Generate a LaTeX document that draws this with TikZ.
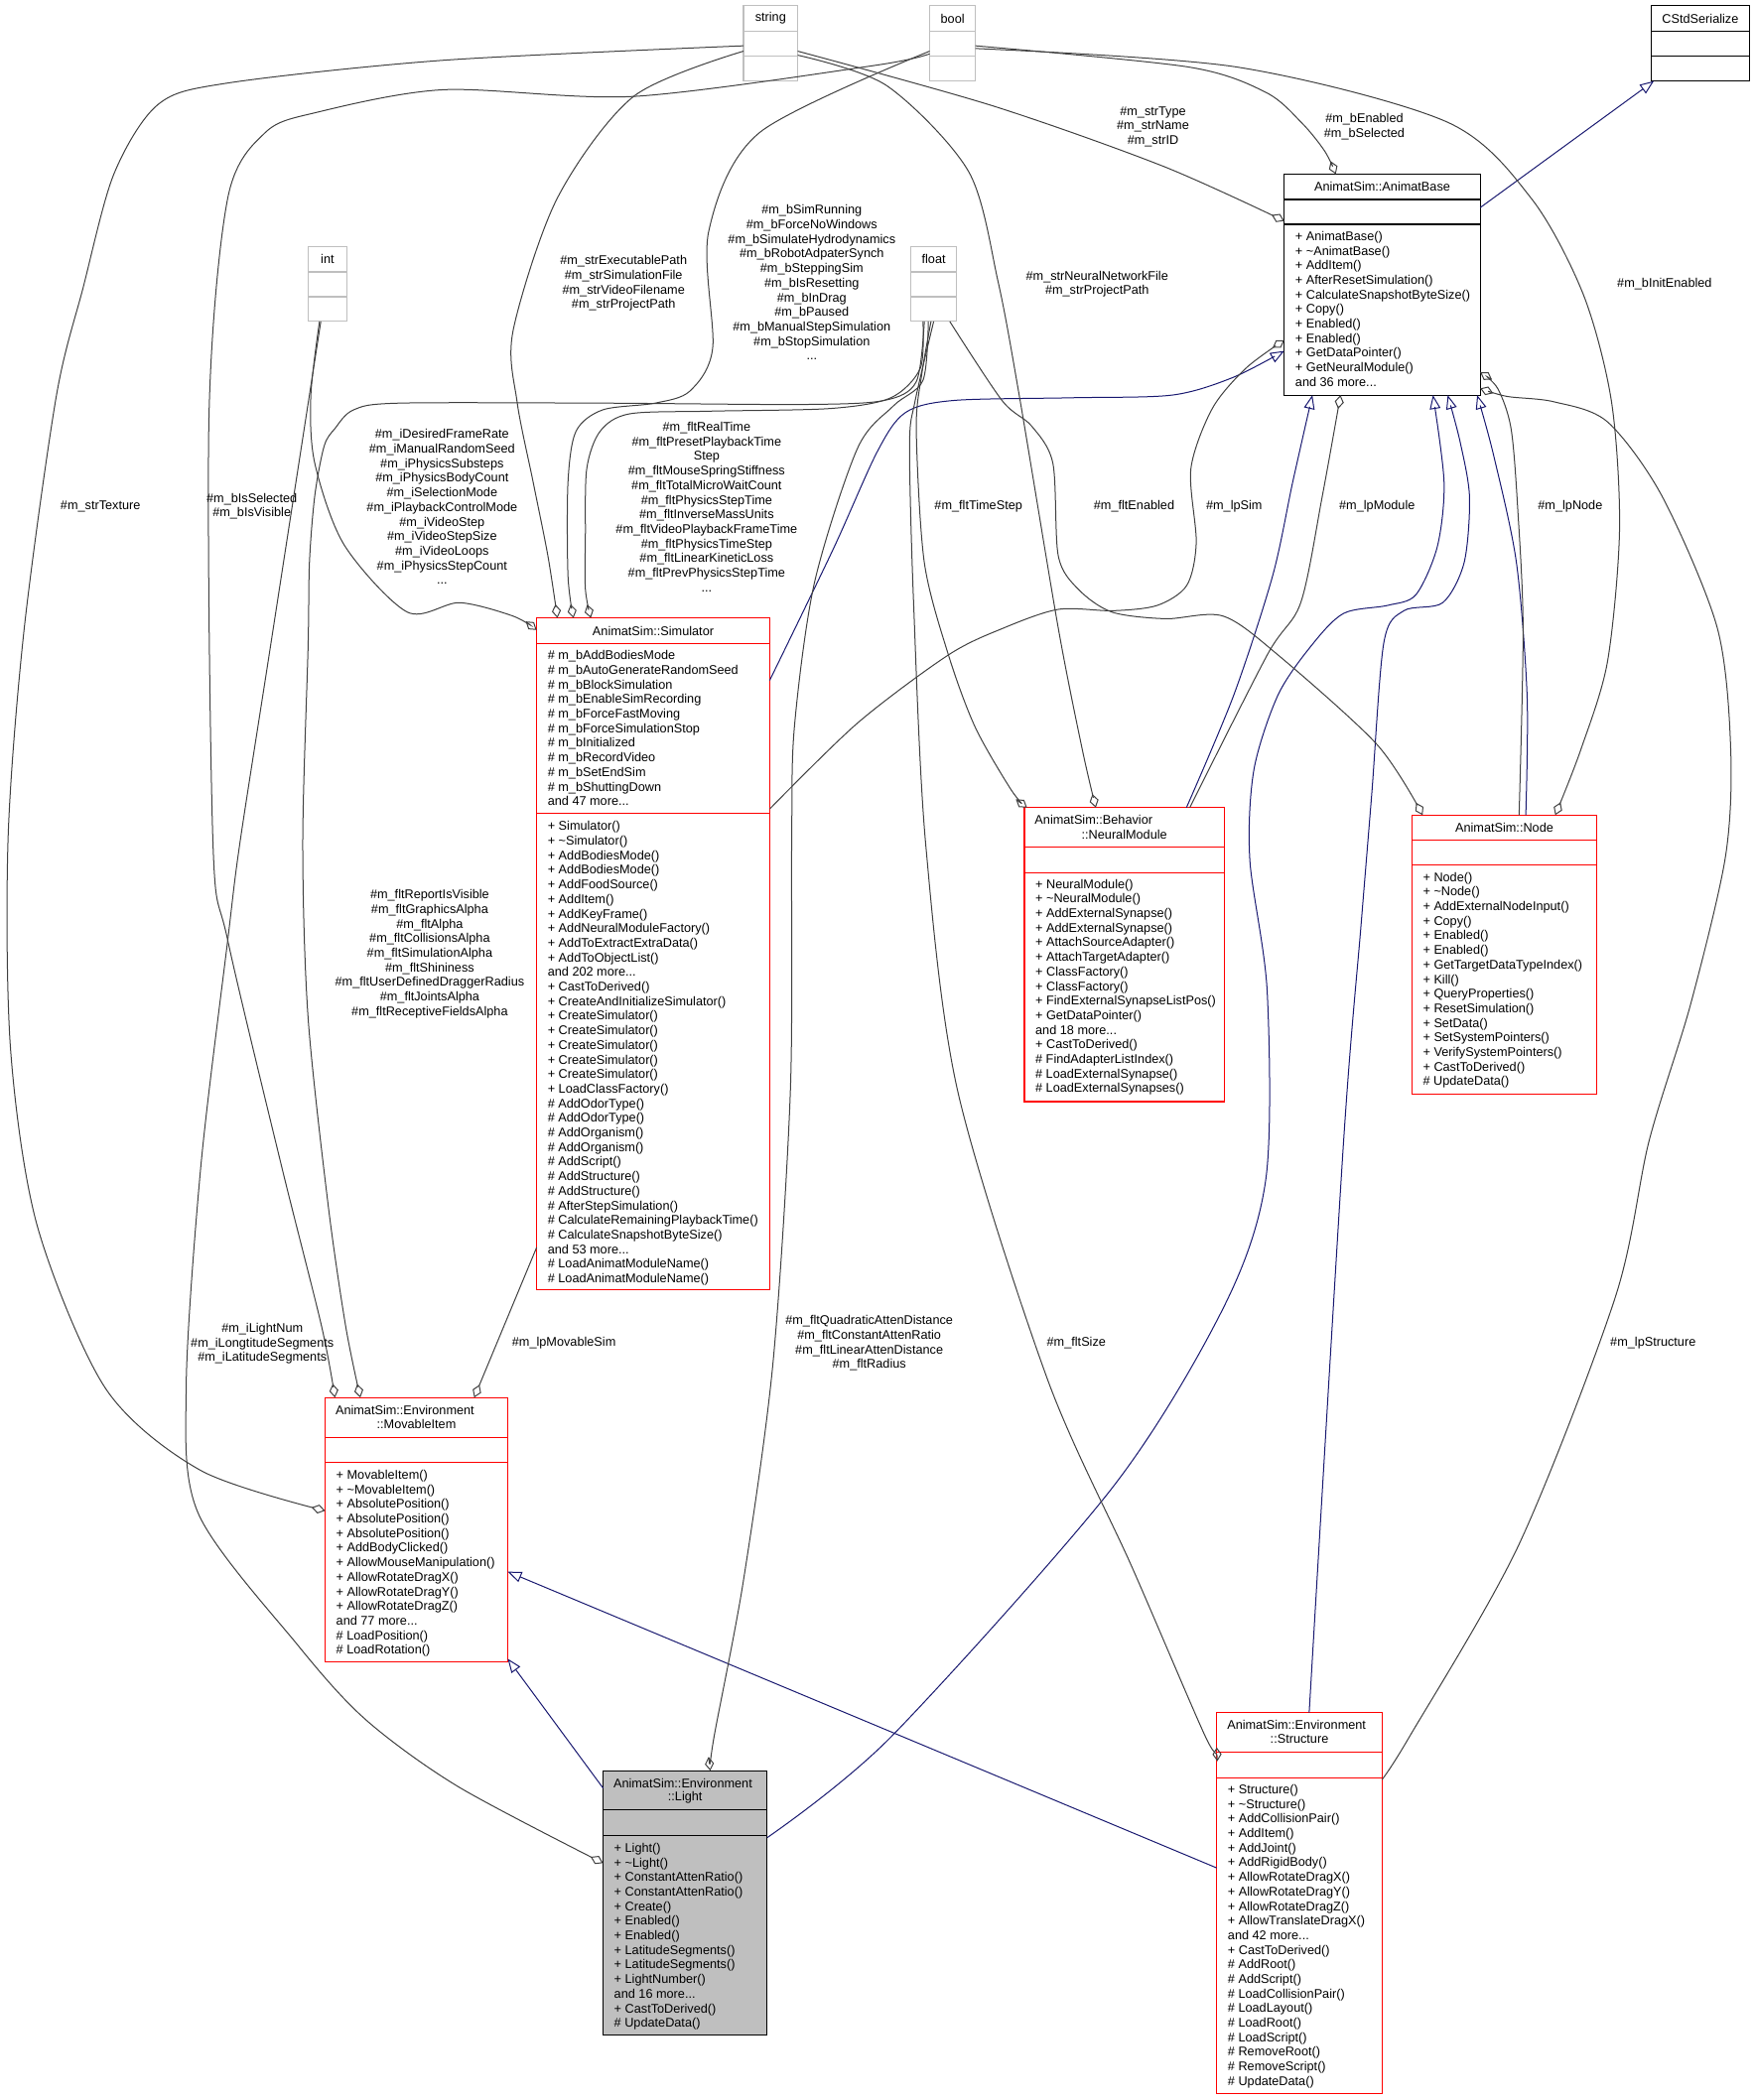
\documentclass[tikz,border=0pt]{standalone}
\usepackage{fontspec}
\setmainfont{Liberation Sans}
\usetikzlibrary{calc,arrows.meta}

\definecolor{dxred}{RGB}{255,0,0}
\definecolor{dxgray}{RGB}{191,191,191}
\definecolor{dxnavy}{RGB}{25,25,112}
\definecolor{dxedge}{RGB}{64,64,64}
\newcommand\dxfont{\fontsize{6.35}{7.35}\selectfont}
\newcommand\dpx{0.6748pt}
% compartment line across a class box
\newcommand\classsep[3]{\draw[#3] ($(#1.north west)+(0,#2)$) -- ($(#1.north east)+(0,#2)$);}

\tikzset{
  cls/.style={draw, inner sep=0pt, outer sep=0pt, anchor=north west, line width=0.6pt},
  redcls/.style={cls, draw=dxred},
  blkcls/.style={cls, draw=black},
  graycls/.style={cls, draw=dxgray},
  redsep/.style={draw=dxred, line width=0.6pt},
  blksep/.style={draw=black, line width=0.6pt},
  graysep/.style={draw=dxgray, line width=0.6pt},
  ttl/.style={inner sep=0pt, font=\dxfont},
  members/.style={anchor=north west, align=left, inner sep=0pt, font=\dxfont},
  lbl/.style={align=center, inner sep=0pt, font=\dxfont},
  inh/.style={draw=dxnavy, line width=0.5pt, -{Triangle[open, length=7pt, width=5.4pt]}},
  coll/.style={draw=dxedge, line width=0.5pt, -{Diamond[open, length=7pt, width=4.6pt]}},
}

\begin{document}
\begin{tikzpicture}[x=\dpx, y=-\dpx]
 \useasboundingbox (0,0) rectangle (1310,1568);

 % Plain types
 \node[graycls, minimum width=40.5*\dpx, minimum height=56.3*\dpx] (string) at (555,4.2) {};
 \node[ttl] (stringT) at ($(string.north)+(0,9.6)$) {string};
 \classsep{string}{19.3}{graysep}
 \classsep{string}{37.8}{graysep}

 \node[graycls, minimum width=34.2*\dpx, minimum height=56.3*\dpx] (bool) at (694,4.2) {};
 \node[ttl] (boolT) at ($(bool.north)+(0,9.6)$) {bool};
 \classsep{bool}{19.3}{graysep}
 \classsep{bool}{37.8}{graysep}

 \node[graycls, minimum width=29*\dpx, minimum height=56*\dpx] (int) at (230,184) {};
 \node[ttl] (intT) at ($(int.north)+(0,9.5)$) {int};
 \classsep{int}{19}{graysep}
 \classsep{int}{37.6}{graysep}

 \node[graycls, minimum width=34*\dpx, minimum height=56*\dpx] (float) at (680,184) {};
 \node[ttl] (floatT) at ($(float.north)+(0,9.5)$) {float};
 \classsep{float}{19}{graysep}
 \classsep{float}{37.6}{graysep}

 \node[blkcls, minimum width=73.4*\dpx, minimum height=56.3*\dpx] (cstd) at (1232.6,4.2) {};
 \node[ttl] (cstdT) at ($(cstd.north)+(0,9.6)$) {CStdSerialize};
 \classsep{cstd}{19.3}{blksep}
 \classsep{cstd}{37.8}{blksep}

 % AnimatSim::AnimatBase
 \node[blkcls, minimum width=146.3*\dpx, minimum height=165*\dpx] (anim) at (958.7,130) {};
 \node[ttl] (animT) at ($(anim.north)+(0,9.5)$) {AnimatSim::AnimatBase};
 \classsep{anim}{19}{blksep}
 \classsep{anim}{37.5}{blksep}
 \node[members] (animM) at ($(anim.north west)+(8,42.5)$) {+ AnimatBase()\\+ \textasciitilde AnimatBase()\\+ AddItem()\\+ AfterResetSimulation()\\+ CalculateSnapshotByteSize()\\+ Copy()\\+ Enabled()\\+ Enabled()\\+ GetDataPointer()\\+ GetNeuralModule()\\and 36 more...};

 % AnimatSim::Simulator
 \node[redcls, minimum width=174*\dpx, minimum height=501.6*\dpx] (sim) at (400.6,461.4) {};
 \node[ttl] (simT) at ($(sim.north)+(0,9.5)$) {AnimatSim::Simulator};
 \classsep{sim}{19}{redsep}
 \classsep{sim}{145.7}{redsep}
 \node[members] (simA) at ($(sim.north west)+(8,24.1)$) {\# m\_bAddBodiesMode\\\# m\_bAutoGenerateRandomSeed\\\# m\_bBlockSimulation\\\# m\_bEnableSimRecording\\\# m\_bForceFastMoving\\\# m\_bForceSimulationStop\\\# m\_bInitialized\\\# m\_bRecordVideo\\\# m\_bSetEndSim\\\# m\_bShuttingDown\\and 47 more...};
 \node[members] (simM) at ($(sim.north west)+(8,151.6)$) {+ Simulator()\\+ \textasciitilde Simulator()\\+ AddBodiesMode()\\+ AddBodiesMode()\\+ AddFoodSource()\\+ AddItem()\\+ AddKeyFrame()\\+ AddNeuralModuleFactory()\\+ AddToExtractExtraData()\\+ AddToObjectList()\\and 202 more...\\+ CastToDerived()\\+ CreateAndInitializeSimulator()\\+ CreateSimulator()\\+ CreateSimulator()\\+ CreateSimulator()\\+ CreateSimulator()\\+ CreateSimulator()\\+ LoadClassFactory()\\\# AddOdorType()\\\# AddOdorType()\\\# AddOrganism()\\\# AddOrganism()\\\# AddScript()\\\# AddStructure()\\\# AddStructure()\\\# AfterStepSimulation()\\\# CalculateRemainingPlaybackTime()\\\# CalculateSnapshotByteSize()\\and 53 more...\\\# LoadAnimatModuleName()\\\# LoadAnimatModuleName()};

 % AnimatSim::Behavior::NeuralModule
 \node[redcls, minimum width=149.3*\dpx, minimum height=219.5*\dpx] (nm) at (764.7,603) {};
 \node[ttl, anchor=west] (nmT1) at ($(nm.north west)+(7.5,9)$) {AnimatSim::Behavior};
 \node[ttl] (nmT2) at ($(nm.north)+(0,19.9)$) {::NeuralModule};
 \classsep{nm}{29.3}{redsep}
 \classsep{nm}{48.5}{redsep}
 \node[members] (nmM) at ($(nm.north west)+(8,53.2)$) {+ NeuralModule()\\+ \textasciitilde NeuralModule()\\+ AddExternalSynapse()\\+ AddExternalSynapse()\\+ AttachSourceAdapter()\\+ AttachTargetAdapter()\\+ ClassFactory()\\+ ClassFactory()\\+ FindExternalSynapseListPos()\\+ GetDataPointer()\\and 18 more...\\+ CastToDerived()\\\# FindAdapterListIndex()\\\# LoadExternalSynapse()\\\# LoadExternalSynapses()};

 % AnimatSim::Node
 \node[redcls, minimum width=138*\dpx, minimum height=208.4*\dpx] (node) at (1054,608.6) {};
 \node[ttl] (nodeT) at ($(node.north)+(0,9.5)$) {AnimatSim::Node};
 \classsep{node}{18.8}{redsep}
 \classsep{node}{37.4}{redsep}
 \node[members] (nodeM) at ($(node.north west)+(8,42.4)$) {+ Node()\\+ \textasciitilde Node()\\+ AddExternalNodeInput()\\+ Copy()\\+ Enabled()\\+ Enabled()\\+ GetTargetDataTypeIndex()\\+ Kill()\\+ QueryProperties()\\+ ResetSimulation()\\+ SetData()\\+ SetSystemPointers()\\+ VerifySystemPointers()\\+ CastToDerived()\\\# UpdateData()};

 % AnimatSim::Environment::MovableItem
 \node[redcls, minimum width=136.3*\dpx, minimum height=197.5*\dpx] (mov) at (242.7,1043.5) {};
 \node[ttl, anchor=west] (movT1) at ($(mov.north west)+(7.5,9.2)$) {AnimatSim::Environment};
 \node[ttl] (movT2) at ($(mov.north)+(0,19.9)$) {::MovableItem};
 \classsep{mov}{29.7}{redsep}
 \classsep{mov}{48.5}{redsep}
 \node[members] (movM) at ($(mov.north west)+(8,53.8)$) {+ MovableItem()\\+ \textasciitilde MovableItem()\\+ AbsolutePosition()\\+ AbsolutePosition()\\+ AbsolutePosition()\\+ AddBodyClicked()\\+ AllowMouseManipulation()\\+ AllowRotateDragX()\\+ AllowRotateDragY()\\+ AllowRotateDragZ()\\and 77 more...\\\# LoadPosition()\\\# LoadRotation()};

 % AnimatSim::Environment::Light
 \node[blkcls, fill=dxgray, minimum width=122.5*\dpx, minimum height=197.6*\dpx] (light) at (450.2,1322.1) {};
 \node[ttl, anchor=west] (lightT1) at ($(light.north west)+(7.5,9.2)$) {AnimatSim::Environment};
 \node[ttl] (lightT2) at ($(light.north)+(0,19.9)$) {::Light};
 \classsep{light}{29.4}{blksep}
 \classsep{light}{48.2}{blksep}
 \node[members] (lightM) at ($(light.north west)+(8,53.8)$) {+ Light()\\+ \textasciitilde Light()\\+ ConstantAttenRatio()\\+ ConstantAttenRatio()\\+ Create()\\+ Enabled()\\+ Enabled()\\+ LatitudeSegments()\\+ LatitudeSegments()\\+ LightNumber()\\and 16 more...\\+ CastToDerived()\\\# UpdateData()};

 % AnimatSim::Environment::Structure
 \node[redcls, minimum width=123.4*\dpx, minimum height=284.7*\dpx] (struct) at (908.3,1278.7) {};
 \node[ttl, anchor=west] (structT1) at ($(struct.north west)+(7.5,9.1)$) {AnimatSim::Environment};
 \node[ttl] (structT2) at ($(struct.north)+(0,19.9)$) {::Structure};
 \classsep{struct}{29.6}{redsep}
 \classsep{struct}{48.9}{redsep}
 \node[members] (structM) at ($(struct.north west)+(8,53.5)$) {+ Structure()\\+ \textasciitilde Structure()\\+ AddCollisionPair()\\+ AddItem()\\+ AddJoint()\\+ AddRigidBody()\\+ AllowRotateDragX()\\+ AllowRotateDragY()\\+ AllowRotateDragZ()\\+ AllowTranslateDragX()\\and 42 more...\\+ CastToDerived()\\\# AddRoot()\\\# AddScript()\\\# LoadCollisionPair()\\\# LoadLayout()\\\# LoadRoot()\\\# LoadScript()\\\# RemoveRoot()\\\# RemoveScript()\\\# UpdateData()};

 % Edge ends on the boxes
 \coordinate (sL1) at ($(string.north west)+(0,30)$);
 \coordinate (sL2) at ($(string.north west)+(0,34)$);
 \coordinate (sR1) at ($(string.north east)+(0,34)$);
 \coordinate (sR2) at ($(string.north east)+(0,37)$);
 \coordinate (bL1) at ($(bool.north west)+(0,34)$);
 \coordinate (bL2) at ($(bool.north west)+(0,36)$);
 \coordinate (bR1) at ($(bool.north east)+(0,30)$);
 \coordinate (bR2) at ($(bool.north east)+(0,32)$);
 \coordinate (iB1) at ($(int.south west)+(8.5,0)$);
 \coordinate (iB2) at ($(int.south west)+(9.5,0)$);
 \coordinate (fB1) at ($(float.south west)+(9,0)$);
 \coordinate (fB2) at ($(float.south west)+(10,0)$);
 \coordinate (fB3) at ($(float.south west)+(13,0)$);
 \coordinate (fB4) at ($(float.south west)+(17,0)$);
 \coordinate (fB5) at ($(float.south west)+(15,0)$);
 \coordinate (fB6) at ($(float.south west)+(29,0)$);
 \coordinate (cB) at ($(cstd.south west)+(2,0)$);
 \coordinate (aL1) at ($(anim.north west)+(0,35)$);
 \coordinate (aT) at ($(anim.north west)+(38.5,0)$);
 \coordinate (aL2) at ($(anim.north west)+(0,124)$);
 \coordinate (aL3) at ($(anim.north west)+(0,132)$);
 \coordinate (aR1) at ($(anim.north east)+(0,25)$);
 \coordinate (aR2) at ($(anim.north east)+(0,148)$);
 \coordinate (aR3) at ($(anim.north east)+(0,160)$);
 \coordinate (aB1) at ($(anim.south west)+(21,0)$);
 \coordinate (aB2) at ($(anim.south west)+(42,0)$);
 \coordinate (aB3) at ($(anim.south west)+(111,0)$);
 \coordinate (aB4) at ($(anim.south west)+(122,0)$);
 \coordinate (aB5) at ($(anim.south west)+(144,0)$);
 \coordinate (simT1) at ($(sim.north west)+(15.5,0)$);
 \coordinate (simT2) at ($(sim.north west)+(27.5,0)$);
 \coordinate (simT3) at ($(sim.north west)+(40.5,0)$);
 \coordinate (simL1) at ($(sim.north west)+(0,9)$);
 \coordinate (simL2) at ($(sim.north west)+(0,470)$);
 \coordinate (simR1) at ($(sim.north east)+(0,46.6)$);
 \coordinate (simR2) at ($(sim.north east)+(0,142.6)$);
 \coordinate (nmA) at ($(nm.north west)+(2,0)$);
 \coordinate (nmB) at ($(nm.north west)+(53.3,0)$);
 \coordinate (nmC) at ($(nm.north west)+(121,0)$);
 \coordinate (nmD) at ($(nm.north west)+(123.5,0)$);
 \coordinate (ndA) at ($(node.north west)+(8,0)$);
 \coordinate (ndB) at ($(node.north west)+(80,0)$);
 \coordinate (ndC) at ($(node.north west)+(85,0)$);
 \coordinate (ndD) at ($(node.north west)+(107,0)$);
 \coordinate (mvT1) at ($(mov.north west)+(7.3,0)$);
 \coordinate (mvT2) at ($(mov.north west)+(26.3,0)$);
 \coordinate (mvT3) at ($(mov.north west)+(111.3,0)$);
 \coordinate (mvL) at ($(mov.north west)+(0,84.5)$);
 \coordinate (mvR1) at ($(mov.north east)+(0,130)$);
 \coordinate (mvR2) at ($(mov.north east)+(0,195)$);
 \coordinate (ltL1) at ($(light.north west)+(0,13)$);
 \coordinate (ltL2) at ($(light.north west)+(0,69)$);
 \coordinate (ltT) at ($(light.north west)+(80,0)$);
 \coordinate (ltR) at ($(light.north east)+(0,50)$);
 \coordinate (stL1) at ($(struct.north west)+(0,26)$);
 \coordinate (stL2) at ($(struct.north west)+(0,116)$);
 \coordinate (stT) at ($(struct.north west)+(69,0)$);
 \coordinate (stR) at ($(struct.north east)+(0,50)$);

 % Inheritance
 \draw[inh] (aR1) -- (cB);
 \draw[inh] plot[smooth] coordinates {(simR1) (622,410) (655,337) (676,308) (712,299) (800,297) (875,295) (920,282) (aL3)};
 \draw[inh] plot[smooth] coordinates {(nmC) (921,519) (950,430) (965,360) (aB1)};
 \draw[inh] plot[smooth] coordinates {(ndC) (1140,520) (1132,420) (1115,340) (aB5)};
 \draw[inh] plot[smooth] coordinates {(ltR) (665,1297) (831,1110) (914,975) (945,880) (946,741) (933,642) (936,575) (954,519) (979,482) (1003,458) (1036,452) (1057,444) (1073,408) (1078,360) (aB3)};
 \draw[inh] plot[smooth] coordinates {(stT) (1003,852) (1016,691) (1024,593) (1033,480) (1048,456) (1077,450) (1093,420) (1097,371) (1090,330) (aB4)};
 \draw[inh] (ltL1) -- (mvR2);
 \draw[inh] (stL2) -- (mvR1);

 % Members: string
 \draw[coll] plot[smooth] coordinates {(sL1) (331,45) (170,62) (118,78) (85,130) (62,215) (42,296) (18,470) (6,627) (8,785) (28,916) (79,1037) (150,1098) (mvL)};
 \draw[coll] plot[smooth] coordinates {(sL2) (473,72) (416,148) (383,247) (386,300) (398,360) (409,415) (simT1)};
 \draw[coll] plot[smooth] coordinates {(sR1) (741,79) (868,124) (aL1)};
 \draw[coll] plot[smooth] coordinates {(sR2) (662,64) (723,128) (745,210) (761,296) (790,469) (808,560) (nmB)};

 % Members: bool
 \draw[coll] plot[smooth] coordinates {(bR1) (887,50) (945,69) (972,92) (989,113) (aT)};
 \draw[coll] plot[smooth] coordinates {(bR2) (923,50) (1080,91) (1143,148) (1182,220) (1203,300) (1209,395) (1200,494) (1180,560) (ndD)};
 \draw[coll] plot[smooth] coordinates {(bL1) (567,99) (529,173) (532,260) (515,292) (489,301) (450,306) (430,322) (424,360) (424,430) (simT2)};
 \draw[coll] plot[smooth] coordinates {(bL2) (652,49) (473,72) (331,67) (236,84) (198,99) (170,148) (156,311) (159,630) (170,702) (210,870) (240,990) (mvT1)};

 % Members: int
 \draw[coll] plot[smooth] coordinates {(iB1) (232,296) (235,346) (257,407) (304,457) (343,450) (383,460) (simL1)};
 \draw[coll] plot[smooth] coordinates {(iB2) (202,482) (179,630) (170,702) (150,870) (139,1035) (148,1130) (222,1228) (273,1284) (342,1334) (ltL2)};

 % Members: float
 \draw[coll] plot[smooth] coordinates {(fB1) (687,275) (665,297) (620,305) (530,307) (470,309) (448,322) (438,350) (437,400) (437,440) (simT3)};
 \draw[coll] plot[smooth] coordinates {(fB2) (684,285) (660,299) (600,302) (450,301) (298,301) (264,306) (250,320) (242,333) (235,370) (231,420) (230,482) (226,630) (230,760) (245,900) (258,990) (mvT2)};
 \draw[coll] plot[smooth] coordinates {(fB3) (689,284) (667,303) (640,335) (608,435) (593,543) (591,630) (590,815) (577,1018) (555,1180) (533,1297) (ltT)};
 \draw[coll] plot[smooth] coordinates {(fB4) (683,300) (679,333) (682,450) (691,630) (715,815) (782,1030) (845,1170) (900,1297) (stL1)};
 \draw[coll] plot[smooth] coordinates {(fB5) (688,280) (684,321) (690,420) (708,489) (728,543) (755,590) (nmA)};
 \draw[coll] plot[smooth] coordinates {(fB6) (748,299) (770,318) (786,346) (790,415) (805,440) (830,457) (870,462) (913,460) (954,489) (1028,556) (ndA)};

 % Members: class pointers
 \draw[coll] plot[smooth] coordinates {(simR2) (640,540) (708,489) (749,469) (790,455) (831,456) (864,452) (886,437) (893,405) (889,350) (905,305) (930,275) (aL2)};
 \draw[coll] plot[smooth] coordinates {(nmD) (946,489) (971,450) (987,371) (aB2)};
 \draw[coll] plot[smooth] coordinates {(ndB) (1137,470) (1133,380) (1128,320) (1118,290) (aR2)};
 \draw[coll] plot[smooth] coordinates {(stR) (1052,1297) (1134,1153) (1206,968) (1231,852) (1262,750) (1288,640) (1292,560) (1282,469) (1241,371) (1200,315) (1160,300) (1125,296) (aR3)};
 \draw[coll] (simL2) -- (mvT3);

 % Edge labels
 \node[lbl] (lbTexture) at (75,378) {\#m\_strTexture};
 \node[lbl] (lbSelected) at (188,378) {\#m\_bIsSelected\\\#m\_bIsVisible};
 \node[lbl] (lbIntSim) at (330,378.5) {\#m\_iDesiredFrameRate\\\#m\_iManualRandomSeed\\\#m\_iPhysicsSubsteps\\\#m\_iPhysicsBodyCount\\\#m\_iSelectionMode\\\#m\_iPlaybackControlMode\\\#m\_iVideoStep\\\#m\_iVideoStepSize\\\#m\_iVideoLoops\\\#m\_iPhysicsStepCount\\...};
 \node[lbl] (lbStrSim) at (465.5,211.5) {\#m\_strExecutablePath\\\#m\_strSimulationFile\\\#m\_strVideoFilename\\\#m\_strProjectPath};
 \node[lbl] (lbBoolSim) at (606,211) {\#m\_bSimRunning\\\#m\_bForceNoWindows\\\#m\_bSimulateHydrodynamics\\\#m\_bRobotAdpaterSynch\\\#m\_bSteppingSim\\\#m\_bIsResetting\\\#m\_bInDrag\\\#m\_bPaused\\\#m\_bManualStepSimulation\\\#m\_bStopSimulation\\...};
 \node[lbl] (lbFltSim) at (527.5,378.5) {\#m\_fltRealTime\\\#m\_fltPresetPlaybackTime\\Step\\\#m\_fltMouseSpringStiffness\\\#m\_fltTotalMicroWaitCount\\\#m\_fltPhysicsStepTime\\\#m\_fltInverseMassUnits\\\#m\_fltVideoPlaybackFrameTime\\\#m\_fltPhysicsTimeStep\\\#m\_fltLinearKineticLoss\\\#m\_fltPrevPhysicsStepTime\\...};
 \node[lbl] (lbFltMov) at (320.8,712.3) {\#m\_fltReportIsVisible\\\#m\_fltGraphicsAlpha\\\#m\_fltAlpha\\\#m\_fltCollisionsAlpha\\\#m\_fltSimulationAlpha\\\#m\_fltShininess\\\#m\_fltUserDefinedDraggerRadius\\\#m\_fltJointsAlpha\\\#m\_fltReceptiveFieldsAlpha};
 \node[lbl] (lbIntLight) at (195.8,1003.2) {\#m\_iLightNum\\\#m\_iLongtitudeSegments\\\#m\_iLatitudeSegments};
 \node[lbl] (lbMovSim) at (421,1003) {\#m\_lpMovableSim};
 \node[lbl] (lbFltLight) at (648.9,1003) {\#m\_fltQuadraticAttenDistance\\\#m\_fltConstantAttenRatio\\\#m\_fltLinearAttenDistance\\\#m\_fltRadius};
 \node[lbl] (lbSize) at (803.5,1003) {\#m\_fltSize};
 \node[lbl] (lbStruct) at (1234,1003) {\#m\_lpStructure};
 \node[lbl] (lbTimeStep) at (730.4,378) {\#m\_fltTimeStep};
 \node[lbl] (lbFltEn) at (846.6,378) {\#m\_fltEnabled};
 \node[lbl] (lbSim) at (921.3,378) {\#m\_lpSim};
 \node[lbl] (lbModule) at (1028,378) {\#m\_lpModule};
 \node[lbl] (lbNode) at (1172.2,378) {\#m\_lpNode};
 \node[lbl] (lbInitEn) at (1242.6,211.7) {\#m\_bInitEnabled};
 \node[lbl] (lbNet) at (819,212) {\#m\_strNeuralNetworkFile\\\#m\_strProjectPath};
 \node[lbl] (lbStrBase) at (860.7,94.6) {\#m\_strType\\\#m\_strName\\\#m\_strID};
 \node[lbl] (lbBoolBase) at (1018.5,94.7) {\#m\_bEnabled\\\#m\_bSelected};
\end{tikzpicture}
\end{document}
